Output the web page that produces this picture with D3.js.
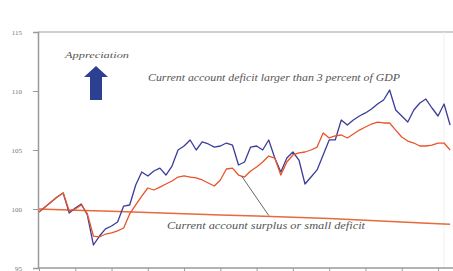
<!DOCTYPE html>
<html>
<head>
<meta charset="utf-8">
<script src="https://cdn.jsdelivr.net/npm/d3@7"></script>
<style>
  body { margin: 0; background: #fff; }
  svg { display: block; }
</style>
</head>
<body>
<div id="chart"></div>
<script>
//Data: months from start, two-month steps
var months = [0,2,4,6,8,10,12,14,16,18,20,22,24,26,28,30,32,34,36,38,40,42,44,46,48,50,52,54,56,58,60,62,64,66,
  68,70,72,74,76,78,80,82,84,86,88,90,92,94,96,98,100,102,104,106,108,110,112,114,116,118,120,122,124,126,128,130,132,134,136];

//Current account deficit larger than 3 percent of GDP
var deficitBlue = [99.75,100.17,100.59,101.02,101.36,99.66,100.08,100.42,99.49,96.95,97.71,98.31,98.56,98.90,100.25,100.34,
  102.03,103.14,102.80,103.22,103.47,102.88,103.64,105.00,105.34,105.85,105.00,105.68,105.51,105.25,105.34,105.59,105.42,
  103.73,103.98,105.25,105.34,105.00,105.85,104.32,103.14,104.32,104.83,104.15,102.12,102.71,103.31,104.58,105.85,105.85,
  107.54,107.12,107.54,107.88,108.14,108.47,108.90,109.24,110.08,108.39,107.88,107.37,108.39,108.98,109.32,108.56,107.88,
  108.90,107.12];

var deficitRed = [99.75,100.17,100.59,101.02,101.36,99.83,100.00,100.34,99.58,97.71,97.63,97.88,97.97,98.14,98.39,99.58,
  100.34,101.10,101.78,101.61,101.86,102.12,102.37,102.71,102.80,102.71,102.63,102.46,102.20,101.95,102.46,103.39,103.47,
  102.88,102.71,103.22,103.56,103.98,104.49,104.32,102.88,103.98,104.58,104.75,104.83,105.00,105.25,106.44,106.02,106.19,
  106.27,106.02,106.36,106.69,106.95,107.20,107.37,107.29,107.29,106.69,106.10,105.76,105.59,105.34,105.34,105.42,105.59,
  105.59,105.00];

//Current account surplus or small deficit
var surplusMonths = [0,12,24,36,48,60,72,84,96,108,120,132,136];
var surplusValues = [100.0,99.9,99.8,99.7,99.6,99.5,99.4,99.3,99.2,99.05,98.9,98.75,98.7];

var yTicks = [95,100,105,110,115];
var xTicks = [0,12,24,36,48,60,72,84,96,108,120,132];

var width = 453, height = 271;

var svg = d3.select("#chart").append("svg")
    .attr("width", width)
    .attr("height", height);

//Scales
var x = d3.scaleLinear().domain([0, 132]).range([39, 438]);
var y = d3.scaleLinear().domain([95, 115]).range([268, 32]);

//Frame: top rule and faint right edge
svg.append("line")
    .attr("x1", 38).attr("x2", width)
    .attr("y1", y(115)).attr("y2", y(115))
    .attr("stroke", "#cfcfcf").attr("stroke-width", 2);
svg.append("line")
    .attr("x1", 444).attr("x2", 444)
    .attr("y1", y(115)).attr("y2", y(95))
    .attr("stroke", "#f0f0f0").attr("stroke-width", 1);

//Y axis
var yAxis = svg.append("g")
    .attr("transform", "translate(38,0)")
    .call(d3.axisLeft(y).tickValues(yTicks).tickSize(5).tickPadding(11));
yAxis.select(".domain").attr("stroke", "#9a9a9a").attr("stroke-width", 1.5);
yAxis.selectAll(".tick line").attr("stroke", "#9a9a9a");
yAxis.selectAll(".tick text")
    .style("font-family", "Liberation Serif, serif")
    .style("font-size", "7px")
    .attr("fill", "#777");

//X axis (labels fall outside the picture)
var xAxis = svg.append("g")
    .attr("transform", "translate(0," + y(95) + ")")
    .call(d3.axisBottom(x).tickValues(xTicks).tickSize(4).tickFormat(""));
xAxis.select(".domain").attr("stroke", "#9a9a9a").attr("stroke-width", 1.5)
    .attr("d", "M38,0H" + width);
xAxis.selectAll(".tick line").attr("stroke", "#9a9a9a");

//Lines
var line = d3.line()
    .x(function(d) { return x(d[0]); })
    .y(function(d) { return y(d[1]); });

svg.append("path")
    .datum(d3.zip(surplusMonths, surplusValues))
    .attr("fill", "none")
    .attr("stroke", "#e8693a")
    .attr("stroke-width", 1.5)
    .attr("d", line);

svg.append("path")
    .datum(d3.zip(months, deficitBlue))
    .attr("fill", "none")
    .attr("stroke", "#3b3d98")
    .attr("stroke-width", 1.3)
    .attr("stroke-linejoin", "round")
    .attr("d", line);

svg.append("path")
    .datum(d3.zip(months, deficitRed))
    .attr("fill", "none")
    .attr("stroke", "#e9542a")
    .attr("stroke-width", 1.3)
    .attr("stroke-linejoin", "round")
    .attr("d", line);

//Pointer from the red line to the surplus line
svg.append("line")
    .attr("x1", x(67)).attr("y1", y(102.8))
    .attr("x2", x(76)).attr("y2", y(99.45))
    .attr("stroke", "#555").attr("stroke-width", 0.9);

//Annotations
var labelStyle = function(sel) {
    sel.style("font-family", "Liberation Serif, serif")
       .style("font-style", "italic")
       .style("font-size", "11px")
       .attr("lengthAdjust", "spacingAndGlyphs")
       .attr("fill", "#555");
};
svg.append("text")
    .attr("x", 148).attr("y", 81)
    .attr("textLength", 252)
    .call(labelStyle)
    .text("Current account deficit larger than 3 percent of GDP");
svg.append("text")
    .attr("x", 167).attr("y", 229)
    .attr("textLength", 198)
    .call(labelStyle)
    .text("Current account surplus or small deficit");
svg.append("text")
    .attr("x", 65).attr("y", 58)
    .attr("textLength", 64)
    .call(labelStyle)
    .style("font-size", "9px")
    .text("Appreciation");

//Appreciation arrow
var ax = 96;
svg.append("path")
    .attr("d", "M" + ax + ",66 L" + (ax + 12) + ",77 L" + (ax + 6) + ",77 L" + (ax + 6) + ",100 L" +
        (ax - 6) + ",100 L" + (ax - 6) + ",77 L" + (ax - 12) + ",77 Z")
    .attr("fill", "#2b4091");
</script>
</body>
</html>
